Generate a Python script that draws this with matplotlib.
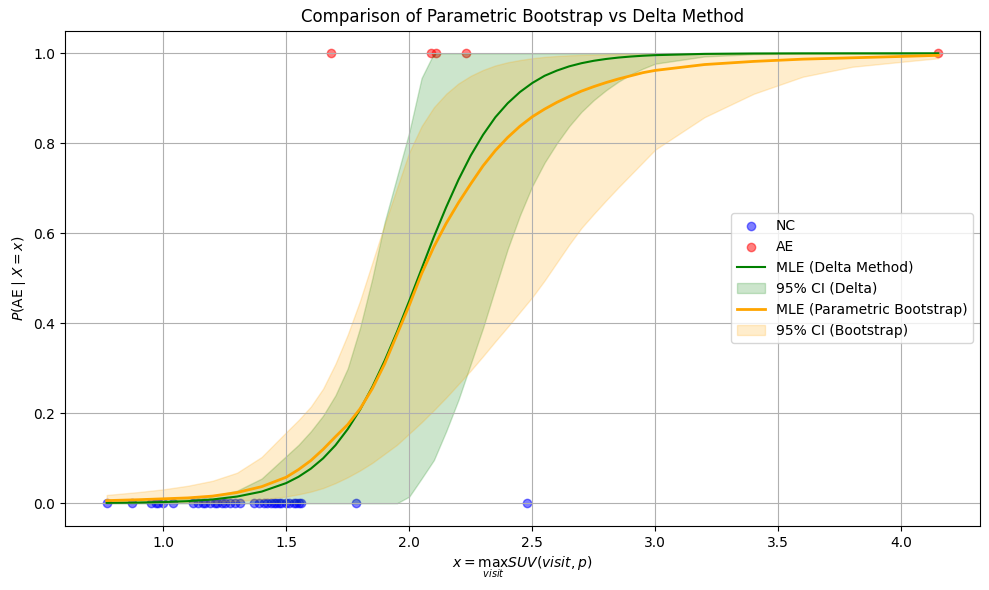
import matplotlib
matplotlib.use("Agg")
import matplotlib.pyplot as plt
import numpy as np

# observed patients: non-case (y=0) and adverse event (y=1)
nc_x = [0.77, 0.875, 0.95, 0.97, 0.98, 1.0, 1.04,
        1.12, 1.14, 1.16, 1.17, 1.19, 1.21, 1.22, 1.24, 1.25, 1.27, 1.29, 1.31,
        1.37, 1.39, 1.41, 1.42, 1.44, 1.45, 1.46, 1.47, 1.48, 1.50, 1.51, 1.53,
        1.54, 1.55, 1.56, 1.785, 2.48]
ae_x = [1.68, 2.09, 2.11, 2.23, 4.15]

# grid where the fitted curves were evaluated
x_grid = [0.77, 0.9, 1.0, 1.1, 1.2, 1.3, 1.4, 1.5, 1.55, 1.6, 1.65, 1.7, 1.75,
          1.8, 1.85, 1.9, 1.95, 2.0, 2.05, 2.1, 2.15, 2.2, 2.25, 2.3, 2.35,
          2.4, 2.45, 2.5, 2.55, 2.6, 2.65, 2.7, 2.75, 2.8, 2.85, 2.9, 2.95,
          3.0, 3.2, 3.4, 3.6, 3.8, 4.0, 4.15]

# delta method: MLE curve and 95% CI
p_delta = [0.001, 0.0016, 0.0027, 0.0048, 0.0085, 0.015, 0.026, 0.045, 0.059,
           0.077, 0.100, 0.129, 0.165, 0.208, 0.259, 0.317, 0.381, 0.450, 0.521,
           0.592, 0.658, 0.719, 0.773, 0.819, 0.858, 0.889, 0.914, 0.934, 0.950,
           0.9616, 0.971, 0.978, 0.9834, 0.9874, 0.9905, 0.9928, 0.9946, 0.9959,
           0.9987, 0.9996, 0.9999, 1.0, 1.0, 1.0]
lo_delta = [0.0, 0.0, 0.0, 0.0, 0.0, 0.0, 0.0, 0.0, 0.0, 0.0, 0.0, 0.0, 0.0,
            0.0, 0.0, 0.0, 0.0, 0.015, 0.055, 0.096, 0.160, 0.230, 0.310, 0.39,
            0.478, 0.565, 0.64, 0.705, 0.757, 0.80, 0.838, 0.87, 0.896, 0.918,
            0.937, 0.953, 0.966, 0.977, 0.993, 0.998, 0.9995, 1.0, 1.0, 1.0]
hi_delta = [0.004, 0.005, 0.007, 0.010, 0.016, 0.028, 0.055, 0.105, 0.13, 0.16,
            0.195, 0.24, 0.30, 0.39, 0.50, 0.625, 0.725, 0.825, 0.945, 1.0, 1.0,
            1.0, 1.0, 1.0, 1.0, 1.0, 1.0, 1.0, 1.0, 1.0, 1.0, 1.0, 1.0, 1.0,
            1.0, 1.0, 1.0, 1.0, 1.0, 1.0, 1.0, 1.0, 1.0, 1.0]

# parametric bootstrap: curve and percentile band
p_boot = [0.006, 0.008, 0.010, 0.012, 0.016, 0.024, 0.037, 0.058, 0.075, 0.095,
          0.12, 0.148, 0.175, 0.21, 0.255, 0.31, 0.375, 0.44, 0.51, 0.57, 0.622,
          0.668, 0.71, 0.75, 0.784, 0.813, 0.838, 0.859, 0.876, 0.891, 0.904,
          0.916, 0.926, 0.935, 0.943, 0.950, 0.957, 0.962, 0.975, 0.982, 0.987,
          0.990, 0.993, 0.9955]
lo_boot = [0.0005, 0.0007, 0.001, 0.0016, 0.003, 0.005, 0.009, 0.015, 0.02,
           0.026, 0.034, 0.045, 0.058, 0.073, 0.09, 0.11, 0.13, 0.155, 0.18,
           0.207, 0.235, 0.265, 0.295, 0.327, 0.36, 0.392, 0.425, 0.458, 0.495,
           0.535, 0.575, 0.612, 0.643, 0.673, 0.702, 0.73, 0.758, 0.786, 0.858,
           0.91, 0.948, 0.97, 0.981, 0.989]
hi_boot = [0.0185, 0.025, 0.031, 0.039, 0.05, 0.068, 0.103, 0.158, 0.185, 0.215,
           0.255, 0.31, 0.375, 0.45, 0.535, 0.62, 0.70, 0.78, 0.838, 0.88,
           0.91, 0.933, 0.95, 0.963, 0.973, 0.98, 0.985, 0.989, 0.992, 0.994,
           0.9955, 0.9965, 0.997, 0.9975, 0.998, 0.998, 0.998, 0.998, 0.999,
           0.9995, 1.0, 1.0, 1.0, 1.0]

fig, ax = plt.subplots(figsize=(9.89, 5.9), dpi=100)
fig.subplots_adjust(left=0.0658, right=0.9907, top=0.9478, bottom=0.1088)

ax.scatter(nc_x, np.zeros(len(nc_x)), color='blue', alpha=0.5, label='NC')
ax.scatter(ae_x, np.ones(len(ae_x)), color='red', alpha=0.5, label='AE')

ax.plot(x_grid, p_delta, color='green', label='MLE (Delta Method)')
ax.fill_between(x_grid, lo_delta, hi_delta, color='green', alpha=0.2, label='95% CI (Delta)')

ax.plot(x_grid, p_boot, color='orange', lw=2, label='MLE (Parametric Bootstrap)')
ax.fill_between(x_grid, lo_boot, hi_boot, color='orange', alpha=0.2, label='95% CI (Bootstrap)')

ax.set_title('Comparison of Parametric Bootstrap vs Delta Method')
ax.set_xlabel(r'$x = \max_{visit} SUV(visit, p)$')
ax.set_ylabel(r'$P(\mathrm{AE} \mid X = x)$')
ax.legend(loc='center right')
ax.grid(True)

plt.savefig('out.png')
